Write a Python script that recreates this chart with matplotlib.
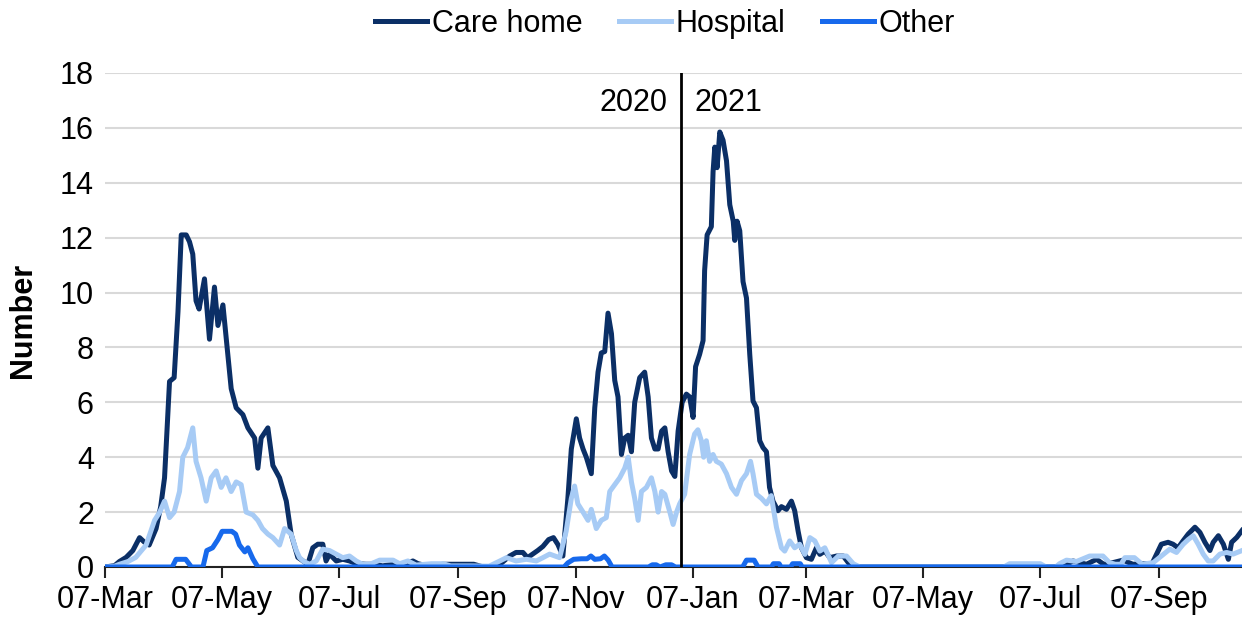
import matplotlib.pyplot as plt
import matplotlib.dates as mdates
import pandas as pd

plt.rcParams['font.family'] = ['Liberation Sans', 'DejaVu Sans']
plt.rcParams['font.size'] = 22

start = pd.Timestamp('2020-03-07')
end_day = 592

# days since 07-Mar-2020
care_days = [0, 5, 7.5, 11, 14.5, 18, 20.6, 23, 26.6, 29, 31, 33.6, 36, 38, 39.7, 42.3, 44, 45.7, 47.4, 49,
             51.8, 54.4, 57, 58.8, 61.4, 64, 65.7, 68.3, 71.8, 74.4, 77.9, 79.6, 81.3, 84.8, 87.4, 90.9, 94.4,
             96.9, 100.4, 105.6, 108.2, 110.8, 113.4, 115.1, 116.9, 120.4, 123.8, 127.3, 130.8, 136, 141, 144.5,
             149.7, 155, 160.3, 163, 168, 176, 185, 192, 197, 204, 210.7, 214, 217.6, 220, 222.7, 225.3, 228,
             231, 233.5, 235.8, 238.4, 241, 242.8, 245.4, 247.1, 248.9, 250.6, 253.2, 255, 256.7, 258.4, 260.2,
             261.9, 263.7, 265.4, 267.1, 268.9, 270.6, 272.4, 274.1, 275.8, 278.4, 281, 282.8, 284.5, 286.3,
             288, 289.8, 291.5, 293.2, 295, 296.7, 298.4, 300.5, 302.7, 304.4, 306.2, 307.5, 309.6, 311.4,
             312.2, 313.5, 315.7, 316.6, 317.5, 318.7, 320.1, 321.8, 323.6, 325.3, 327.1, 327.9, 329.1, 330.5,
             332.2, 334, 335.7, 337.4, 339.2, 340.9, 342.6, 344.4, 346, 347.8, 350.4, 352.2, 354.8, 357.4,
             359.1, 360.9, 362.6, 365.2, 367.8, 370.4, 372.2, 374.8, 377.4, 380.9, 384.4, 387, 390, 498, 504,
             507.5, 511, 516.3, 520, 524.8, 530, 535.2, 540.4, 545, 550, 553.5, 556.1, 558.7, 561.4, 564, 567.5,
             570.1, 572.7, 575.3, 577, 579.7, 582.3, 584.9, 586.6, 589.3, 592]
care_vals = [0, 0.05, 0.2, 0.35, 0.6, 1.07, 0.9, 0.8, 1.4, 2.2, 3.25, 6.76, 6.9, 9.3, 12.1, 12.1, 11.85, 11.4,
             9.7, 9.4, 10.5, 8.3, 10.2, 8.8, 9.55, 7.7, 6.5, 5.8, 5.55, 5.07, 4.7, 3.6, 4.7, 5.07, 3.7, 3.25,
             2.4, 1.2, 0.35, 0.1, 0.7, 0.83, 0.83, 0.22, 0.47, 0.22, 0.28, 0.22, 0.12, 0.1, 0.1, 0.04, 0.1,
             0.07, 0.22, 0.12, 0.04, 0.1, 0.1, 0.1, 0, 0, 0.4, 0.53, 0.53, 0.34, 0.47, 0.6, 0.75, 1.0, 1.07,
             0.82, 0.4, 2.5, 4.3, 5.4, 4.7, 4.3, 4.0, 3.4, 5.8, 7.1, 7.8, 7.85, 9.25, 8.5, 6.8, 6.2, 4.1, 4.7,
             4.8, 4.2, 6.0, 6.9, 7.1, 6.2, 4.7, 4.3, 4.3, 4.95, 5.07, 4.2, 3.5, 3.3, 4.95, 6.0, 6.3, 6.2, 5.45,
             7.3, 7.75, 8.25, 10.8, 12.1, 12.4, 14.4, 15.3, 14.55, 15.85, 15.55, 14.8, 13.2, 12.6, 11.9, 12.6,
             12.25, 10.4, 9.8, 7.75, 6.05, 5.8, 4.6, 4.35, 4.2, 2.9, 2.4, 2.05, 2.2, 2.1, 2.4, 2.05, 1.3, 0.7,
             0.34, 0.28, 0.7, 0.46, 0.58, 0.34, 0.4, 0.4, 0.16, 0, 0, 0.22, 0.16, 0.1, 0.28, 0.1, 0.16, 0.25,
             0.1, 0.12, 0.1, 0.83, 0.9, 0.83, 0.7, 0.96, 1.2, 1.45, 1.26, 0.9, 0.6, 0.9, 1.14, 0.83, 0.28, 0.9,
             1.08, 1.33]

hosp_days = [0, 5, 7.5, 12, 16, 21.4, 25.8, 28.5, 31, 33.6, 36, 38.8, 40.5, 43, 45.7, 47.4, 50, 52.7, 55.3,
             57.9, 60.5, 63, 65.7, 68.3, 70.9, 73.5, 77, 79.6, 82, 84.8, 87.4, 90.9, 93.5, 96.9, 99.6, 101.3,
             103.5, 106.5, 110, 113.4, 116.9, 120.4, 123.8, 127.3, 130.8, 134, 138, 143, 150, 153.4, 157.7,
             162, 170, 176, 180, 190, 200, 205.6, 209, 214, 219.4, 224.6, 228, 231.5, 236.7, 240.1, 242.8,
             244.5, 246.2, 248.9, 251.5, 253.2, 255.8, 258.4, 261, 262.8, 265.4, 268, 270.6, 272.4, 274.1,
             275.8, 277.6, 279.3, 281.9, 284.5, 286.3, 288, 289.8, 291.5, 294.1, 295.8, 297.6, 299.2, 301.8,
             304.4, 307, 308.7, 310.5, 311.7, 313.1, 314.8, 316.6, 318.3, 320.9, 323.6, 326.2, 328.8, 331.4,
             334, 336.1, 337.4, 339.2, 341.8, 344.4, 346.9, 349.6, 352.2, 353.9, 356.5, 359.1, 361.7, 364.4,
             367, 369.6, 372.2, 374.8, 378.3, 381.8, 386.1, 389.6, 393, 468, 471, 487, 490, 495, 497, 500.6,
             505.8, 512.7, 519.6, 523, 526, 529, 531, 536, 540, 545.8, 550, 554.4, 557.9, 561.4, 564, 566.6,
             569.2, 571.8, 574.4, 577, 580.5, 584, 587.4, 592]
hosp_vals = [0, 0.03, 0.1, 0.2, 0.35, 0.8, 1.7, 2.0, 2.4, 1.8, 2.0, 2.75, 4.0, 4.35, 5.07, 3.85, 3.25, 2.4,
             3.25, 3.5, 2.9, 3.25, 2.75, 3.1, 3.0, 2.0, 1.9, 1.7, 1.4, 1.2, 1.07, 0.8, 1.4, 1.2, 0.6, 0.34, 0.2,
             0.1, 0.22, 0.65, 0.6, 0.47, 0.34, 0.4, 0.22, 0.1, 0.1, 0.25, 0.25, 0.12, 0.22, 0.07, 0.12, 0.12,
             0.04, 0.04, 0.03, 0.22, 0.34, 0.22, 0.28, 0.22, 0.34, 0.47, 0.34, 1.3, 2.5, 2.95, 2.3, 2.0, 1.7,
             2.1, 1.4, 1.7, 1.8, 2.75, 3.0, 3.25, 3.6, 4.0, 3.1, 2.5, 1.7, 2.75, 2.9, 3.25, 2.75, 2.0, 2.75,
             2.65, 2.0, 1.55, 2.0, 2.3, 2.65, 4.1, 4.85, 5.0, 4.6, 4.0, 4.6, 3.85, 4.1, 3.85, 3.75, 3.4, 2.9,
             2.65, 3.15, 3.4, 3.85, 3.4, 2.65, 2.5, 2.3, 2.6, 1.45, 0.7, 0.58, 0.95, 0.7, 0.83, 0.46, 1.07,
             0.95, 0.58, 0.7, 0.16, 0.4, 0.4, 0.12, 0, 0, 0.12, 0.12, 0, 0, 0.12, 0.25, 0.2, 0.4, 0.4, 0.16,
             0.1, 0.1, 0.34, 0.34, 0.1, 0.16, 0.4, 0.65, 0.53, 0.83, 1.0, 1.14, 0.83, 0.47, 0.22, 0.22, 0.47,
             0.53, 0.47, 0.6]

other_days = [0, 35, 37, 42, 45, 51, 53, 56, 58.8, 61, 66, 68, 70, 72.8, 74.4, 77, 79.6, 239, 241, 244, 248,
              251, 253, 255, 258, 260, 262, 264, 283, 285, 287, 289, 292, 295, 297, 332, 334, 338, 340, 347,
              348, 351, 352, 357, 358, 362, 363, 592]
other_vals = [0, 0, 0.28, 0.28, 0, 0, 0.6, 0.7, 1.0, 1.3, 1.3, 1.2, 0.8, 0.55, 0.7, 0.3, 0, 0, 0.15, 0.28, 0.3,
              0.3, 0.4, 0.28, 0.3, 0.4, 0.25, 0, 0, 0.08, 0.08, 0, 0.08, 0.08, 0, 0, 0.25, 0.25, 0, 0, 0.12,
              0.12, 0, 0, 0.12, 0.12, 0, 0]

series_names = ['Care home', 'Hospital', 'Other']
colors = ['#0B2F66', '#A7CBF5', '#1769EC']


def to_dates(days):
    return start + pd.to_timedelta(days, unit='D')


fig = plt.figure(figsize=(12.42, 6.2), dpi=100)
ax = fig.add_axes([105 / 1242, 1 - 567 / 620, 1 - 105 / 1242, (567 - 73) / 620])

for d, v, name, c in zip([care_days, hosp_days, other_days], [care_vals, hosp_vals, other_vals],
                         series_names, colors):
    ax.plot(to_dates(d), v, color=c, lw=3.6, label=name, solid_joinstyle='round', zorder=3)

# year divider
ax.axvline(pd.Timestamp('2021-01-01'), color='black', lw=2, zorder=4)
ax.text(pd.Timestamp('2020-12-25'), 16.9, '2020', ha='right', va='center')
ax.text(pd.Timestamp('2021-01-08'), 16.9, '2021', ha='left', va='center')

ax.set_xlim(start, to_dates(end_day))
ax.set_ylim(0, 18)
ax.set_yticks(range(0, 19, 2))
ax.xaxis.set_major_locator(mdates.MonthLocator(bymonth=[1, 3, 5, 7, 9, 11], bymonthday=7))
ax.xaxis.set_major_formatter(mdates.DateFormatter('%d-%b'))

ax.yaxis.grid(True, color='#D9D9D9', lw=1.5)
ax.set_axisbelow(True)
for s in ['left', 'top', 'right']:
    ax.spines[s].set_visible(False)
ax.spines['bottom'].set_color('#222222')
ax.spines['bottom'].set_linewidth(1.5)
ax.tick_params(axis='y', length=0, pad=8)
ax.tick_params(axis='x', direction='out', length=8, width=1.5, color='#222222', pad=5)

ax.set_ylabel('Number', fontweight='bold')
ax.yaxis.set_label_coords(-0.059, 0.5)

fig.legend(loc='center', bbox_to_anchor=(665 / 1242, 1 - 24 / 620), ncol=3, frameon=False,
           handlelength=1.7, handletextpad=0.15, columnspacing=1.2)

fig.savefig('out.png', dpi=100)
